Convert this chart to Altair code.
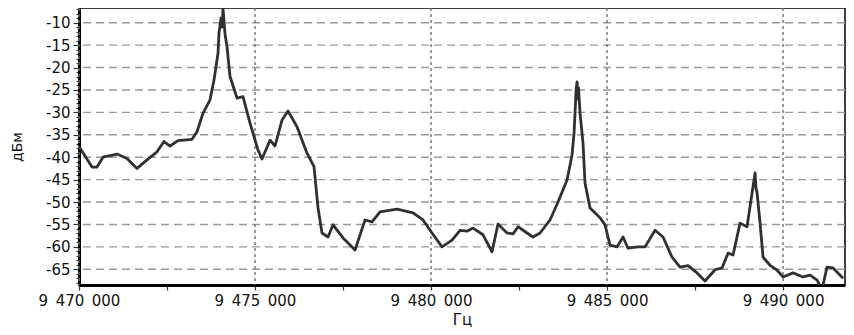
import altair as alt
import pandas as pd

# Frequency (Hz) and level (dBm)
freq_hz = [
    9470000, 9470369, 9470511, 9470682, 9471080, 9471364, 9471648, 9471932,
    9472216, 9472415, 9472585, 9472812, 9473210, 9473352, 9473523, 9473722,
    9473835, 9473949, 9473977, 9474034, 9474063, 9474091, 9474119, 9474148,
    9474205, 9474290, 9474489, 9474659, 9474858, 9474943, 9475085, 9475199,
    9475426, 9475568, 9475767, 9475938, 9476193, 9476477, 9476676, 9476790,
    9476903, 9477074, 9477216, 9477500, 9477841, 9478125, 9478324, 9478551,
    9479034, 9479489, 9479773, 9480028, 9480313, 9480597, 9480824, 9481023,
    9481193, 9481477, 9481733, 9481903, 9482159, 9482330, 9482472, 9482727,
    9482898, 9483097, 9483381, 9483608, 9483864, 9484006, 9484063, 9484091,
    9484120, 9484148, 9484176, 9484190, 9484233, 9484318, 9484375, 9484517,
    9484801, 9484943, 9485085, 9485284, 9485455, 9485597, 9485881, 9486080,
    9486364, 9486591, 9486847, 9487074, 9487301, 9487557, 9487784, 9488068,
    9488267, 9488438, 9488580, 9488778, 9488977, 9489119, 9489205, 9489233,
    9489261, 9489347, 9489432, 9489631, 9489830, 9490000, 9490284, 9490568,
    9490767, 9490966, 9491108, 9491250, 9491420, 9491705,
]
level_dbm = [
    -37.6, -42.2, -42.2, -40.0, -39.3, -40.3, -42.5, -40.6,
    -38.8, -36.5, -37.5, -36.3, -36.0, -34.3, -30.2, -27.2,
    -22.8, -16.8, -12.3, -9.0, -11.0, -6.9, -9.5, -12.5,
    -15.4, -22.0, -26.8, -26.5, -32.4, -34.6, -38.4, -40.4,
    -36.2, -37.5, -31.7, -29.7, -33.2, -39.1, -42.1, -51.3,
    -56.9, -57.8, -55.1, -58.0, -60.7, -54.0, -54.4, -52.2,
    -51.6, -52.4, -54.0, -56.9, -60.0, -58.5, -56.3, -56.5,
    -55.8, -57.3, -61.1, -54.9, -56.9, -57.1, -55.5, -56.9,
    -57.8, -56.9, -54.0, -50.0, -45.1, -39.5, -34.6, -30.2,
    -25.0, -23.2, -27.0, -24.5, -30.2, -36.8, -45.8, -51.3,
    -53.5, -55.1, -59.6, -60.0, -57.8, -60.3, -60.0, -60.0,
    -56.3, -57.8, -62.3, -64.5, -64.2, -65.8, -67.6, -65.1,
    -64.7, -61.4, -61.8, -54.7, -55.5, -48.0, -43.5, -47.0,
    -47.8, -54.7, -62.3, -64.1, -65.2, -66.7, -65.8, -66.7,
    -66.3, -67.4, -69.5, -64.5, -64.7, -67.0,
]

x_ticks = [9470000, 9472500, 9475000, 9477500, 9480000, 9482500, 9485000, 9487500, 9490000]
x_grid = [9470000, 9475000, 9480000, 9485000, 9490000]
y_grid = [-10, -15, -20, -25, -30, -35, -40, -45, -50, -55, -60, -65]
y_ticks = list(range(-68, -6))

x_domain = [9470000, 9491760]
y_domain = [-68.5, -6.72]

FONT = "DejaVu Sans"

df = pd.DataFrame({"f": freq_hz, "l": level_dbm})
xs = alt.Scale(domain=x_domain, nice=False, zero=False)
ys = alt.Scale(domain=y_domain, nice=False, zero=False)

x_label_expr = (
    "datum.value % 5000 === 0 ? "
    "replace(replace(format(datum.value, ','), ',', '\u2002'), ',', '\u2002') : ''"
)

x_axis = alt.Axis(
    title="Гц", values=x_ticks, labelExpr=x_label_expr, grid=False,
    domainColor="black", domainWidth=3, tickColor="#333", tickWidth=1.2,
    tickSize=5, labelFont=FONT, labelFontSize=15, labelColor="#111",
    labelPadding=3, labelFlush=False, labelOverlap=False,
    titleFont=FONT, titleFontSize=15, titleFontWeight="normal",
    titleColor="#111", titlePadding=4,
)
y_axis = alt.Axis(
    title="дБм", values=y_ticks,
    labelExpr="datum.value % 5 === 0 ? datum.value : ''",
    grid=False, domainColor="black", domainWidth=3,
    tickColor="#333", tickWidth=1.2,
    tickSize={"condition": {"test": "datum.value % 5 === 0", "value": 6}, "value": 3},
    labelFont=FONT, labelFontSize=15, labelColor="#111", labelPadding=3,
    labelOverlap=False, labelFlush=False,
    titleFont=FONT, titleFontSize=14, titleFontWeight="normal",
    titleColor="#111", titleX=-62, titleBaseline="middle",
)

hgrid = alt.Chart(pd.DataFrame({"l": y_grid})).mark_rule(
    color="#9a9a9a", strokeWidth=1.4, strokeDash=[8, 5]
).encode(y=alt.Y("l:Q", scale=ys, axis=y_axis))

vgrid = alt.Chart(pd.DataFrame({"f": x_grid})).mark_rule(
    color="#707070", strokeWidth=1.4, strokeDash=[3, 3]
).encode(x=alt.X("f:Q", scale=xs, axis=x_axis))

line = alt.Chart(df).mark_line(
    color="#303030", strokeWidth=2.8, clip=True, strokeJoin="round"
).encode(
    x=alt.X("f:Q", scale=xs, axis=x_axis),
    y=alt.Y("l:Q", scale=ys, axis=y_axis),
)

chart = alt.layer(hgrid, vgrid, line).properties(
    width=766, height=277,
    autosize=alt.AutoSizeParams(type="none"),
    padding={"left": 71, "top": 0, "right": 1, "bottom": 42},
).configure_view(stroke="black", strokeWidth=1.5)

chart.save("out.html", embed_options={"renderer": "svg", "actions": False})
